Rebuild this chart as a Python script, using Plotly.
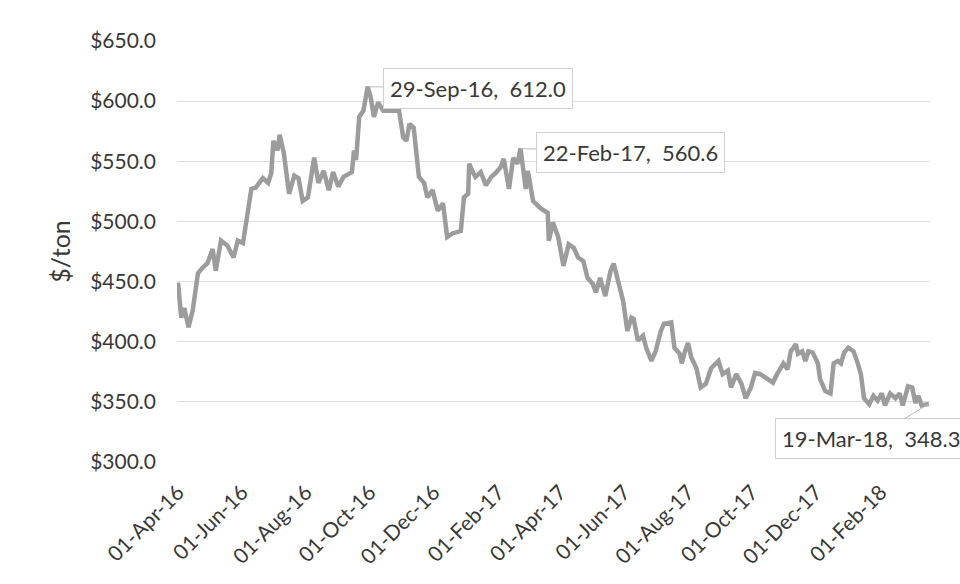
import plotly.graph_objects as go

dates = [
    "2016-04-01", "2016-04-02", "2016-04-04", "2016-04-07", "2016-04-11", "2016-04-15",
    "2016-04-20", "2016-04-25", "2016-04-29", "2016-05-04", "2016-05-07", "2016-05-12",
    "2016-05-18", "2016-05-24", "2016-05-28", "2016-06-02", "2016-06-07", "2016-06-10",
    "2016-06-14", "2016-06-21", "2016-06-26", "2016-06-29", "2016-07-01", "2016-07-05",
    "2016-07-07", "2016-07-11", "2016-07-16", "2016-07-21", "2016-07-25", "2016-07-29",
    "2016-08-03", "2016-08-09", "2016-08-13", "2016-08-18", "2016-08-23", "2016-08-27",
    "2016-09-01", "2016-09-06", "2016-09-14", "2016-09-16", "2016-09-18", "2016-09-21",
    "2016-09-25", "2016-09-29", "2016-10-02", "2016-10-05", "2016-10-09", "2016-10-14",
    "2016-10-21", "2016-10-29", "2016-11-02", "2016-11-05", "2016-11-08", "2016-11-12",
    "2016-11-17", "2016-11-22", "2016-11-25", "2016-11-30", "2016-12-05", "2016-12-10",
    "2016-12-14", "2016-12-19", "2016-12-27", "2016-12-30", "2017-01-03", "2017-01-04",
    "2017-01-08", "2017-01-10", "2017-01-15", "2017-01-20", "2017-01-25", "2017-01-29",
    "2017-02-03", "2017-02-06", "2017-02-11", "2017-02-15", "2017-02-19", "2017-02-22",
    "2017-02-27", "2017-03-01", "2017-03-06", "2017-03-13", "2017-03-20", "2017-03-21",
    "2017-03-25", "2017-03-30", "2017-04-04", "2017-04-09", "2017-04-14", "2017-04-18",
    "2017-04-23", "2017-04-27", "2017-05-02", "2017-05-05", "2017-05-09", "2017-05-14",
    "2017-05-19", "2017-05-22", "2017-05-26", "2017-05-31", "2017-06-04", "2017-06-08",
    "2017-06-10", "2017-06-14", "2017-06-19", "2017-06-22", "2017-06-27", "2017-07-01",
    "2017-07-06", "2017-07-09", "2017-07-16", "2017-07-19", "2017-07-24", "2017-07-26",
    "2017-07-29", "2017-08-01", "2017-08-04", "2017-08-09", "2017-08-13", "2017-08-18",
    "2017-08-23", "2017-08-30", "2017-09-03", "2017-09-08", "2017-09-11", "2017-09-16",
    "2017-09-21", "2017-09-25", "2017-09-30", "2017-10-04", "2017-10-09", "2017-10-16",
    "2017-10-21", "2017-10-25", "2017-10-31", "2017-11-04", "2017-11-07", "2017-11-12",
    "2017-11-14", "2017-11-18", "2017-11-21", "2017-11-24", "2017-11-28", "2017-12-03",
    "2017-12-05", "2017-12-10", "2017-12-15", "2017-12-18", "2017-12-22", "2017-12-25",
    "2017-12-28", "2018-01-01", "2018-01-06", "2018-01-10", "2018-01-13", "2018-01-16",
    "2018-01-21", "2018-01-25", "2018-01-29", "2018-02-02", "2018-02-05", "2018-02-10",
    "2018-02-15", "2018-02-19", "2018-02-22", "2018-02-27", "2018-03-03", "2018-03-06",
    "2018-03-09", "2018-03-12", "2018-03-19",
]

prices = [
    449, 440, 420, 428, 412, 426,
    457, 462, 465, 477, 459, 484,
    480, 470, 484, 482, 507, 527,
    528, 536, 532, 540, 567, 559,
    572, 557, 523, 538, 536, 517,
    520, 553, 532, 542, 526, 541,
    529, 537, 541, 559, 551, 587,
    592, 612.0, 603, 587, 599, 592,
    592, 592, 570, 567, 581, 578,
    537, 532, 520, 526, 509, 515,
    487, 490, 492, 520, 523, 548,
    540, 537, 541, 530, 537, 540,
    545, 552, 527, 553, 548, 560.6,
    527, 542, 517, 511, 507, 484,
    499, 487, 463, 481, 478, 470,
    467, 453, 448, 441, 453, 438,
    459, 465, 451, 434, 409, 420,
    419, 401, 405, 395, 384, 392,
    409, 415, 416, 395, 390, 382,
    392, 399, 387, 378, 362, 365,
    378, 384, 373, 376, 362, 373,
    365, 353, 362, 374, 373, 369,
    366, 373, 382, 377, 392, 398,
    390, 392, 384, 392, 391, 382,
    369, 359, 357, 382, 384, 382,
    391, 395, 392, 382, 373, 353,
    348, 355, 351, 357, 347, 357,
    353, 357, 347, 363, 362, 349,
    355, 347, 348.3,
]

tick_dates = [
    "2016-04-01", "2016-06-01", "2016-08-01", "2016-10-01", "2016-12-01", "2017-02-01",
    "2017-04-01", "2017-06-01", "2017-08-01", "2017-10-01", "2017-12-01", "2018-02-01",
]
tick_labels = [
    "01-Apr-16", "01-Jun-16", "01-Aug-16", "01-Oct-16", "01-Dec-16", "01-Feb-17",
    "01-Apr-17", "01-Jun-17", "01-Aug-17", "01-Oct-17", "01-Dec-17", "01-Feb-18",
]
y_ticks = [300, 350, 400, 450, 500, 550, 600, 650]
y_labels = ["$300.0", "$350.0", "$400.0", "$450.0", "$500.0", "$550.0", "$600.0", "$650.0"]

callouts = [
    ("2016-09-29", 612.0, "29-Sep-16,  612.0", 110, 2),
    ("2017-02-22", 560.6, "22-Feb-17,  560.6", 110, 4),
    ("2018-03-19", 348.3, "19-Mar-18,  348.3", -58, 35),
]

FONT = "Lato, 'Open Sans', sans-serif"
TXT = "#383838"

fig = go.Figure()
fig.add_trace(go.Scatter(
    x=dates, y=prices, mode="lines",
    line=dict(color="#9c9c9c", width=4.5),
    hoverinfo="x+y",
))

for d, v, t, ax, ay in callouts:
    fig.add_annotation(
        x=d, y=v, text=t, showarrow=True, arrowhead=0, arrowwidth=1,
        arrowcolor="#bdbdbd", ax=ax, ay=ay,
        bgcolor="white", bordercolor="#d0d0d0", borderwidth=1, borderpad=6,
        font=dict(family=FONT, size=22, color=TXT),
    )

fig.update_layout(
    width=960, height=584,
    margin=dict(l=177, r=30, t=41, b=122),
    paper_bgcolor="white", plot_bgcolor="white",
    showlegend=False,
    font=dict(family=FONT, color=TXT),
    xaxis=dict(
        type="date", range=["2016-03-31", "2018-03-20"],
        tickvals=tick_dates, ticktext=tick_labels, tickangle=-45,
        tickfont=dict(size=21, color=TXT), showgrid=False, zeroline=False,
        showline=False, ticks="", automargin=False, ticklabelstandoff=13,
    ),
    yaxis=dict(
        range=[300, 650], tickvals=y_ticks, ticktext=y_labels,
        tickfont=dict(size=21, color=TXT), showgrid=True, gridcolor="#dedede",
        gridwidth=1, zeroline=False, showline=False, ticklabelstandoff=20,
        automargin=False,
        title=dict(text="$/ton", font=dict(size=25, color=TXT), standoff=12),
    ),
)

fig.write_html("out.html")
